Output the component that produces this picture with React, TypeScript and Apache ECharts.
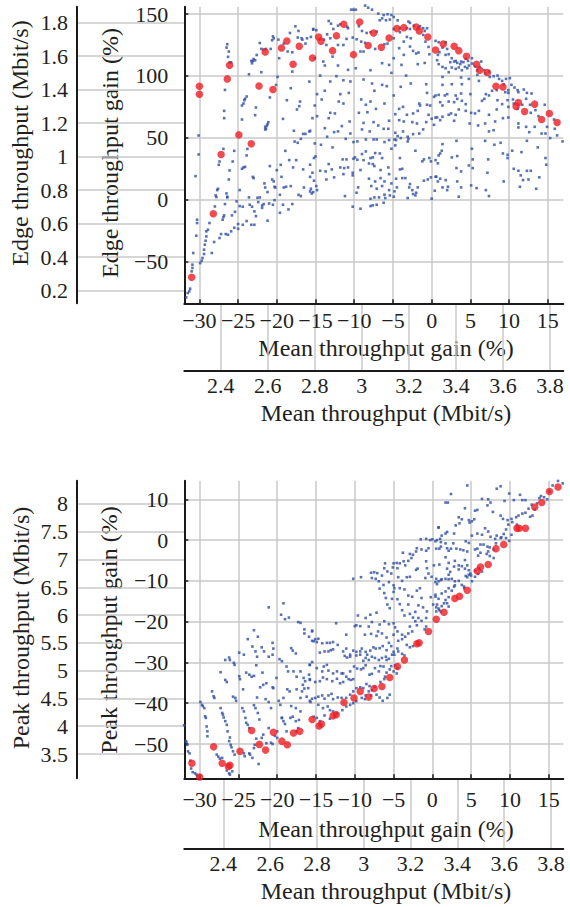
import React, { useEffect, useRef } from 'react';
import * as echarts from 'echarts';

// ---------- tick labels ----------
const gainXTicks = [-30, -25, -20, -15, -10, -5, 0, 5, 10, 15];
const edgeGainTicks = [-50, 0, 50, 100, 150];
const edgeMbitTicks = [0.2, 0.4, 0.6, 0.8, 1, 1.2, 1.4, 1.6, 1.8];
const meanMbitTicks = [2.4, 2.6, 2.8, 3, 3.2, 3.4, 3.6, 3.8];
const peakGainTicks = [-50, -40, -30, -20, -10, 0, 10];
const peakMbitTicks = [3.5, 4, 4.5, 5, 5.5, 6, 6.5, 7, 7.5, 8];

// ---------- axis ranges ----------
const topGainXRange = [-31.95, 17.0];
const edgeGainRange = [-83.6, 155.9];
const edgeMbitRange = [0.125, 1.8955];
const topMeanMbitRange = [2.2452, 3.8565];
const botGainXRange = [-31.98, 16.88];
const peakGainRange = [-58.41, 14.56];
const peakMbitRange = [3.063, 8.419];
const botMeanMbitRange = [2.2333, 3.8526];

// ---------- titles ----------
const edgeMbitTitle = 'Edge throughput (Mbit/s)';
const edgeGainTitle = 'Edge throughput gain (%)';
const peakMbitTitle = 'Peak throughput (Mbit/s)';
const peakGainTitle = 'Peak throughput gain (%)';
const meanGainTitle = 'Mean throughput gain (%)';
const meanMbitTitle = 'Mean throughput (Mbit/s)';

// ---------- data: top panel (mean gain %, edge gain %) ----------
const topRed = [
  [-31.0, -62.6], [-30.0, 91.7], [-30.0, 85.2], [-28.2, -11.3], [-27.2, 36.6], [-26.4, 97.6], [-26.1, 108.6],
  [-24.9, 52.4], [-23.3, 45.2], [-22.3, 91.9], [-21.5, 119.4], [-20.5, 89.0], [-19.4, 122.6], [-18.7, 128.2],
  [-17.9, 109.4], [-17.1, 123.9], [-15.4, 114.5], [-14.6, 131.5], [-14.3, 128.0], [-12.8, 120.4], [-12.3, 132.5],
  [-11.35, 141.7], [-10.1, 117.2], [-9.3, 143.5], [-8.2, 124.5], [-7.5, 134.7], [-6.5, 123.1], [-5.5, 130.6],
  [-4.5, 138.2], [-3.6, 139.0], [-2.0, 139.5], [-1.6, 136.3], [-0.5, 131.5], [0.5, 121.0], [1.5, 125.8],
  [2.9, 123.9], [3.5, 120.4], [4.5, 115.9], [5.8, 109.4], [6.2, 104.6], [7.2, 102.7], [8.3, 91.7], [9.2, 91.1],
  [11.2, 78.5], [10.9, 75.3], [12.0, 71.2], [13.3, 77.2], [14.2, 64.8], [15.2, 69.6], [16.2, 62.4],
];

const topBlueLeft = [
  [-31.7, -78.8], [-31.5, -75.3], [-31.3, -73.9], [-31.2, -71.8], [-31.0, -57.8], [-30.9, -55.1], [-30.9, -52.4],
  [-30.8, -43.0], [-30.4, -29.0], [-30.3, -18.8], [-30.3, -16.1], [-30.1, 36.6], [-30.1, 51.9], [-30.5, 19.1],
  [-29.9, -51.1], [-29.7, -49.2], [-29.6, -47.0], [-29.4, -43.8], [-29.4, -40.3], [-29.3, -36.3], [-29.2, -33.1],
  [-29.1, -29.6], [-29.1, -25.5], [-28.9, -24.2], [-28.7, -18.8], [-28.4, -43.0], [-28.1, -34.1], [-28.0, -5.4],
  [-27.8, 2.2], [-27.9, 3.5], [-27.7, 7.8], [-27.6, 8.9], [-27.5, 28.2], [-27.4, 30.9], [-27.2, -27.7],
  [-27.4, -30.9], [-27.0, -16.1], [-26.9, -14.0], [-26.8, -12.6], [-26.9, 41.1], [-26.7, -3.5], [-26.6, -27.7],
  [-26.4, 1.9], [-26.5, 5.1], [-26.4, 2.4], [-26.3, -28.2], [-26.2, 16.4], [-26.1, 23.7], [-25.9, -25.5],
  [-25.7, 30.9], [-25.8, -12.6], [-25.5, -22.6], [-25.5, 39.5], [-25.4, -9.7], [-25.2, -1.3], [-25.0, -23.4],
  [-25.0, -19.6], [-24.8, 7.8], [-24.8, -5.1], [-24.5, 25.0], [-24.4, -5.6], [-24.4, -20.2], [-24.3, 26.1],
  [-24.1, 26.6], [-23.9, 35.8], [-23.8, 41.1], [-23.9, -17.2], [-23.6, 1.9], [-23.5, -4.0], [-23.3, -20.2],
  [-23.2, -5.6], [-23.1, 18.5], [-23.0, 17.5], [-22.9, -20.2], [-22.9, -9.4], [-22.7, -13.2], [-22.5, 1.6],
  [-22.4, -1.9], [-22.2, 1.9], [-21.9, -6.5], [-21.9, -4.6], [-21.7, -3.5], [-21.6, 13.2], [-21.5, 9.9],
  [-21.2, 6.2], [-21.2, -16.9], [-21.0, -3.0], [-20.9, 27.2], [-20.6, 16.4], [-20.5, -4.0], [-20.4, 14.8],
  [-20.3, 10.5], [-20.3, -0.3], [-20.2, 9.9], [-20.0, 23.9], [-19.6, 4.0], [-19.6, -10.5], [-19.5, 28.2],
  [-19.4, 18.5], [-19.2, -4.0], [-19.1, 9.9], [-18.9, 39.5], [-18.8, 10.5], [-18.5, -7.8], [-18.4, 32.0],
  [-18.2, 11.0], [-18.0, -3.5], [-17.9, 26.1], [-17.7, 47.0], [-17.5, 32.0], [-17.2, 4.0], [-17.3, 46.0],
  [-16.9, 3.0], [-16.6, 24.5], [-16.5, 9.9], [-16.3, 53.2], [-15.8, 55.1], [-15.7, 18.5], [-15.6, 8.9],
  [-15.5, 5.1], [-15.4, 21.8],
  [-26.7, 88.7], [-26.8, 71.8], [-26.8, 65.9], [-26.5, 122.9], [-26.4, 125.6], [-26.2, 119.7], [-26.3, 115.4],
  [-26.1, 111.0], [-25.9, 111.0], [-24.5, 64.8], [-24.5, 76.1], [-24.3, 77.7], [-24.2, 80.4], [-24.1, 81.5],
  [-23.9, 83.4], [-23.6, 101.3], [-23.3, 112.1], [-23.2, 110.2], [-23.1, 112.1], [-23.0, 113.7], [-22.8, 112.6],
  [-22.7, 74.5], [-22.8, 68.3], [-22.6, 116.9], [-22.2, 126.6], [-22.0, 103.0], [-22.0, 121.8], [-21.7, 121.3],
  [-21.4, 121.8], [-21.5, 58.9], [-21.5, 56.7], [-21.4, 57.3], [-21.3, 59.7], [-21.2, 61.0], [-21.1, 62.6],
  [-20.9, 82.6], [-20.8, 121.8], [-20.6, 128.8], [-20.5, 132.0], [-20.4, 130.4], [-19.8, 129.3], [-19.9, 99.2],
  [-20.1, 92.7], [-19.7, 114.3], [-19.2, 65.3], [-19.1, 126.1], [-18.7, 80.4], [-18.6, 119.7], [-18.3, 134.7],
  [-18.2, 90.1], [-18.0, 119.1], [-18.0, 103.5], [-17.8, 55.7], [-17.6, 140.1], [-17.4, 72.9], [-17.3, 131.0],
  [-17.2, 136.3], [-17.1, 75.6], [-17.0, 79.3], [-16.9, 49.2], [-16.8, 130.4], [-16.7, 129.3], [-16.6, 53.2],
  [-16.3, 126.1], [-16.1, 130.4], [-15.8, 95.4], [-15.6, 131.5], [-15.3, 137.9],
];

const topBlueMid = [
  [-10.4, 153.5], [-10.1, 153.5], [-9.8, 153.5], [-8.6, 156.8], [-8.2, 155.1], [-7.7, 153.5], [-6.9, 150.3],
  [-6.2, 149.2], [-5.7, 149.8], [-5.2, 149.2], [-4.9, 147.6], [-5.4, 145.5], [-5.9, 144.9], [-6.4, 146.5],
  [-6.7, 144.9], [-4.4, 144.9], [-3.0, 143.9], [-2.8, 142.8], [-2.3, 140.6], [-1.7, 139.0], [-1.1, 138.5],
  [-0.6, 138.5], [-0.9, 136.3], [-1.5, 140.1], [-2.8, 137.9], [-3.2, 138.5], [-4.1, 138.5], [-4.9, 137.9],
  [-13.3, 144.4], [-13.0, 142.2], [-12.7, 137.9], [-12.1, 140.6], [-11.8, 141.7], [-10.9, 139.6], [-10.8, 138.5],
  [-9.4, 140.1], [-9.0, 136.3], [-8.4, 134.7], [-7.9, 135.3], [-7.1, 135.8], [-8.6, 126.7], [-9.1, 127.7],
  [-9.7, 129.6], [-10.2, 131.0], [-11.0, 129.9], [-11.4, 125.0], [-12.1, 125.0], [-13.1, 130.4], [-13.5, 133.6],
  [-13.6, 125.0], [-13.9, 129.3], [-14.9, 136.9], [-15.3, 137.4], [-15.1, 114.3], [-14.0, 111.6], [-13.8, 108.4],
  [-12.8, 115.6], [-12.1, 108.4], [-10.8, 104.9], [-9.8, 106.2], [-9.2, 119.7], [-8.8, 119.7], [-7.3, 121.8],
  [-6.4, 110.3], [-5.5, 108.9], [-5.2, 102.5], [-4.9, 114.3], [-4.2, 122.4], [-3.9, 108.9], [-3.6, 117.0],
  [-3.2, 131.5], [-2.7, 130.4], [-2.8, 123.7], [-2.4, 120.2], [-2.0, 118.1], [-1.7, 118.9], [-1.1, 133.1],
  [-0.8, 127.7], [-0.4, 123.4], [-0.3, 117.5], [-0.9, 110.5], [-1.8, 109.5], [-3.3, 100.3], [-5.7, 126.1],
  [-4.9, 130.4], [-4.1, 135.3], [-3.6, 127.7], [-6.1, 125.6], [-7.9, 104.6], [-14.4, 100.3],
  [-14.8, 85.3], [-15.1, 76.1], [-14.2, 81.0], [-13.8, 88.0], [-13.1, 95.5], [-12.3, 99.8], [-11.4, 96.5],
  [-10.5, 95.5], [-8.8, 97.1], [-7.7, 93.9], [-7.4, 88.0], [-6.4, 92.8], [-5.8, 91.7], [-4.0, 91.2],
  [-2.7, 93.9], [-0.7, 93.3], [-0.6, 86.3], [0.3, 83.1], [0.9, 84.7], [-11.8, 85.3], [-10.7, 86.3],
  [-12.0, 79.3], [-11.4, 77.7], [-9.1, 81.0], [-8.5, 76.7], [-7.9, 79.3], [-9.4, 70.2], [-8.3, 70.7],
  [-7.2, 73.4], [-6.1, 77.7], [-4.9, 84.2], [-4.2, 73.4], [-4.7, 69.1], [-3.7, 75.0], [-3.2, 68.6],
  [-2.4, 69.7], [-1.8, 71.8], [-1.6, 77.7], [-1.5, 76.1], [-0.6, 76.7], [-0.2, 76.1], [-0.4, 68.6],
  [0.0, 65.4], [0.7, 66.5], [-0.7, 62.7], [-1.9, 61.6], [-2.5, 62.7], [-3.6, 63.2], [-4.2, 64.3],
  [-5.5, 63.8], [-6.2, 57.3], [-6.9, 60.0], [-7.5, 62.7], [-8.8, 62.1], [-10.6, 63.2], [-11.6, 59.5],
  [-12.5, 69.7], [-13.1, 70.2], [-13.3, 65.9], [-14.8, 67.5], [-15.4, 65.9], [-13.8, 57.8], [-12.6, 54.6],
  [-12.1, 55.2], [-10.5, 53.5], [-9.0, 56.8], [-8.0, 55.2], [-5.6, 57.3], [-4.7, 54.1], [-4.4, 51.4],
  [-3.7, 55.2], [-3.1, 50.9], [-3.0, 49.2], [-2.4, 53.0], [-1.6, 53.5], [-1.1, 56.8], [0.3, 60.5],
  [-15.7, 55.7], [-15.1, 45.5], [-13.5, 50.9], [-11.1, 49.2], [-10.1, 46.6], [-9.6, 47.1], [-8.5, 48.7],
  [-7.5, 48.7], [-7.1, 48.7], [-6.1, 46.6], [-5.5, 48.2], [-4.8, 48.7], [-4.6, 48.2], [-4.0, 49.8],
  [-15.7, 28.3], [-15.2, 33.7], [-15.0, 35.0], [-14.3, 44.4], [-12.8, 42.3], [-11.5, 32.6], [-11.0, 32.6],
  [-10.1, 33.1], [-9.9, 34.2], [-9.6, 32.3], [-9.0, 36.9], [-8.8, 32.0], [-8.5, 39.0], [-7.9, 33.7],
  [-7.6, 34.2], [-7.3, 37.7], [-6.7, 37.4], [-6.4, 33.7], [-5.2, 41.2], [-4.7, 43.9], [-4.1, 33.7],
  [-3.1, 47.1], [-2.1, 39.6], [-1.2, 31.0], [-1.0, 32.6], [-0.3, 33.7], [-0.1, 31.0], [0.9, 35.8],
  [-15.2, 15.4], [-14.9, 11.1], [-14.8, 7.8], [-14.4, 23.4], [-13.7, 22.9], [-13.6, 16.4], [-13.3, 28.8],
  [-12.9, 24.5], [-12.6, 18.1], [-11.8, 26.1], [-11.3, 25.6], [-11.4, 20.7], [-10.8, 26.1], [-10.2, 21.8],
  [-10.2, 19.7], [-9.2, 24.0], [-8.1, 29.3], [-8.1, 17.0], [-7.6, 28.8], [-7.4, 27.2], [-7.3, 14.8],
  [-6.6, 24.0], [-6.6, 17.5], [-5.6, 26.1], [-5.5, 20.7], [-6.1, 14.8], [-5.2, 13.2], [-4.5, 10.0],
  [-4.6, 17.0], [-4.1, 24.5], [-3.8, 25.0], [-3.8, 17.5], [-3.4, 17.5], [-2.9, 10.0], [-2.8, 12.7],
  [-2.5, 7.8], [-2.0, 5.7], [-2.1, 3.5], [-1.8, 10.0], [-1.0, 15.4], [-0.5, 16.4], [-0.1, 18.1],
  [0.6, 18.6], [0.8, 14.8], [0.4, 7.3], [-7.8, 11.1], [-7.1, 8.9], [-6.4, 11.1], [-6.1, 4.1],
  [-5.5, 7.8], [-5.4, 3.5], [-4.9, 2.5], [-6.0, 1.4], [-6.8, 1.9], [-7.4, 1.9], [-7.9, 0.8],
  [-9.5, 10.0], [-9.7, 5.7], [-11.2, 3.0], [-10.2, -5.6], [-9.2, -7.2], [-7.9, -5.1], [-7.6, -4.5],
  [-7.1, -4.0], [-6.2, -2.4], [-4.8, 6.8], [-3.1, 1.4], [-2.4, 4.6], [0.0, 0.9], [-15.3, 6.2], [-15.7, 6.8],
];

const topBlueRight = [
  [0.5, 128.3], [0.9, 127.2], [1.8, 127.2], [1.4, 122.9], [2.0, 121.8], [2.2, 117.5], [1.8, 117.0],
  [2.6, 114.3], [2.9, 111.6], [2.4, 111.1], [3.1, 112.1], [3.3, 110.5], [3.7, 109.5], [3.8, 111.6],
  [4.1, 111.1], [4.4, 113.8], [4.7, 112.1], [4.8, 108.4], [4.6, 106.2], [4.3, 107.3], [3.9, 104.6],
  [3.5, 106.8], [3.1, 105.7], [2.6, 106.8], [2.2, 103.0], [1.8, 106.2], [1.4, 107.3], [0.9, 109.5],
  [0.7, 112.7], [0.8, 117.0], [1.0, 119.1], [5.2, 114.3], [5.2, 110.0], [5.6, 107.8], [5.9, 104.6],
  [6.2, 107.3], [6.4, 111.6], [6.8, 104.6], [6.9, 101.9], [7.4, 103.5], [7.5, 99.2], [8.0, 99.8],
  [8.5, 100.3], [8.7, 97.6], [9.1, 96.0], [9.3, 93.3], [9.6, 97.6], [10.1, 98.2], [10.3, 92.8],
  [10.7, 90.6], [11.1, 88.5], [11.2, 86.9], [11.9, 89.0], [12.3, 86.3], [9.9, 88.5], [9.5, 86.9],
  [1.4, 99.2], [3.8, 98.7], [4.8, 97.6], [5.9, 100.9], [6.1, 96.0],
  [0.5, 84.2], [1.1, 78.8], [1.4, 92.8], [1.7, 84.2], [2.0, 85.3], [2.6, 93.3], [2.9, 78.8],
  [3.1, 84.2], [3.3, 81.5], [3.9, 79.9], [4.4, 77.2], [5.0, 85.3], [3.9, 93.3], [3.8, 85.8],
  [2.2, 79.3], [1.4, 76.1], [0.5, 66.4], [1.1, 64.3], [1.4, 67.0], [2.2, 68.6], [2.5, 69.7],
  [2.9, 63.8], [3.1, 68.6], [3.5, 72.9], [4.4, 71.8], [5.1, 70.2], [5.6, 69.7], [6.1, 71.8],
  [6.5, 79.9], [6.8, 81.5], [7.0, 85.3], [7.4, 84.2], [7.8, 88.0], [8.4, 88.5], [8.5, 80.4],
  [9.1, 77.2], [9.8, 80.4], [9.9, 86.3], [10.6, 77.7], [9.9, 75.0], [9.2, 65.9], [8.4, 72.9],
  [7.4, 68.6], [6.9, 61.6], [6.0, 60.0], [4.9, 61.6], [8.2, 63.2], [8.0, 56.2], [7.4, 55.2],
  [9.9, 66.4], [10.5, 81.0], [11.1, 73.4], [12.2, 81.5], [11.7, 76.7], [12.7, 76.7], [12.8, 70.2],
  [13.4, 72.4], [13.3, 58.9], [12.6, 54.6], [13.8, 67.5], [14.6, 76.7], [12.9, 85.8], [11.2, 61.6],
  [11.2, 58.4], [12.2, 58.9], [14.2, 53.5], [14.9, 58.9], [15.3, 49.8], [15.8, 64.8], [15.9, 57.3],
  [16.2, 52.0], [16.9, 47.1], [14.7, 53.5],
  [1.4, 44.9], [1.3, 39.6], [1.1, 37.4], [0.5, 32.0], [0.8, 29.4], [0.5, 18.6], [1.1, 17.0],
  [1.4, 10.0], [1.8, 15.9], [2.0, 7.8], [2.1, 10.5], [2.6, 34.2], [3.2, 47.6], [3.3, 35.3],
  [3.2, 25.6], [3.3, 14.8], [3.5, 2.5], [3.8, 22.9], [3.8, 10.0], [4.8, 27.7], [5.2, 41.2],
  [5.3, 32.6], [5.3, 25.6], [5.1, 11.6], [5.8, 9.4], [6.9, 47.6], [7.3, 32.6], [7.2, 21.8],
  [7.0, 7.8], [7.4, 3.0], [8.1, 44.4], [8.9, 46.0], [9.2, 37.4], [9.3, 14.8], [9.8, 36.3],
  [10.4, 39.6], [10.6, 25.0], [11.2, 23.4], [11.4, 10.5], [11.5, 19.7], [11.8, 15.9], [12.3, 23.4],
  [12.5, 16.4], [12.8, 23.4], [13.5, 8.9], [13.9, 18.1], [13.7, 42.3], [14.8, 28.3], [14.7, 33.7],
  [12.3, 47.6], [11.6, 38.5], [9.8, 33.7],
];

// ---------- data: bottom panel (mean gain %, peak gain %) ----------
const botRed = [
  [-31.0, -54.7], [-30.0, -58.1], [-28.2, -50.7], [-27.1, -54.7], [-26.3, -55.5], [-26.1, -55.2], [-24.8, -51.8],
  [-23.3, -46.7], [-22.3, -50.1], [-21.5, -51.5], [-20.5, -47.1], [-19.4, -49.3], [-18.7, -50.2], [-17.9, -47.3],
  [-17.1, -46.9], [-15.5, -44.0], [-14.6, -45.6], [-14.3, -45.1], [-12.8, -43.1], [-12.4, -42.8], [-11.4, -39.8],
  [-10.1, -38.7], [-9.3, -37.1], [-8.2, -38.5], [-7.5, -36.4], [-6.5, -35.9], [-5.5, -33.7], [-4.5, -31.0],
  [-3.6, -29.4], [-2.0, -25.4], [-1.7, -25.2], [-0.5, -22.4], [0.5, -19.4], [1.5, -17.7], [2.9, -14.3],
  [3.5, -13.8], [4.5, -12.3], [5.8, -7.6], [6.2, -6.6], [7.2, -6.0], [8.2, -2.1], [9.2, -1.1], [10.9, 2.9],
  [11.2, 2.9], [12.0, 2.9], [13.2, 8.1], [14.1, 9.2], [15.1, 11.9], [16.2, 13.0],
];

const botBlueLeft = [
  [-32.0, -45.4], [-31.8, -49.3], [-31.7, -49.5], [-31.6, -50.2], [-31.5, -51.8], [-31.3, -52.3], [-31.2, -54.1],
  [-31.1, -56.0], [-30.9, -56.9], [-30.6, -57.2], [-30.4, -57.5], [-30.3, -57.9], [-29.9, -39.7], [-29.7, -40.4],
  [-29.6, -40.7], [-29.4, -41.2], [-29.3, -43.2], [-29.2, -43.6], [-29.1, -45.7], [-29.0, -46.9], [-29.0, -48.1],
  [-28.4, -37.1], [-28.2, -38.3], [-28.1, -38.7], [-27.8, -52.6], [-27.6, -53.1], [-27.4, -53.6], [-27.1, -53.4],
  [-27.3, -41.2], [-27.1, -42.4], [-27.0, -42.8], [-26.9, -43.5], [-26.7, -44.4], [-26.5, -45.3], [-26.4, -46.9],
  [-26.2, -49.3], [-26.1, -48.4], [-26.0, -50.2], [-25.9, -50.8], [-25.7, -51.8], [-25.5, -52.6], [-26.5, -56.5],
  [-26.2, -57.2], [-26.1, -57.5], [-25.8, -56.7], [-27.3, -32.4], [-26.7, -34.3], [-26.5, -34.8], [-26.2, -28.8],
  [-26.1, -29.4], [-25.6, -30.1], [-25.5, -30.6], [-25.7, -38.4], [-25.4, -38.7], [-25.3, -39.4], [-24.9, -33.4],
  [-24.8, -34.1], [-24.5, -41.2], [-24.3, -42.0], [-24.1, -43.6], [-24.0, -44.8], [-23.8, -45.3], [-23.6, -46.1],
  [-24.4, -36.6], [-24.0, -32.5], [-23.6, -33.0], [-23.3, -33.5], [-23.0, -33.3], [-22.7, -30.7], [-23.0, -40.5],
  [-22.8, -41.2], [-22.5, -42.4], [-22.3, -44.0], [-22.0, -48.5], [-21.8, -47.7], [-22.7, -48.7], [-22.9, -50.2],
  [-23.0, -51.0], [-23.5, -52.6], [-23.2, -53.4], [-23.6, -52.3], [-24.3, -52.3], [-24.2, -53.0], [-22.4, -54.9],
  [-21.4, -49.8], [-21.1, -46.1], [-20.8, -41.2], [-20.6, -36.1], [-20.5, -36.3], [-21.8, -35.5], [-21.4, -35.1],
  [-21.9, -32.5], [-21.5, -39.0], [-22.2, -36.1], [-22.6, -38.6], [-21.1, -39.7], [-19.8, -39.4], [-19.6, -40.4],
  [-19.4, -43.6], [-19.2, -44.4], [-19.0, -45.1], [-18.8, -46.9], [-20.0, -46.9], [-20.0, -48.5], [-20.3, -48.0],
  [-20.6, -50.0], [-20.8, -49.7], [-20.1, -33.8], [-19.7, -29.2], [-19.4, -29.7], [-18.8, -31.0], [-18.6, -32.2],
  [-18.7, -36.6], [-18.4, -37.1], [-18.3, -43.6], [-18.0, -43.3], [-17.6, -44.4], [-17.5, -46.9], [-17.3, -46.1],
  [-17.2, -44.1], [-17.0, -42.0], [-17.6, -41.2], [-18.2, -40.7], [-19.2, -38.7], [-19.4, -43.6], [-17.9, -32.2],
  [-17.5, -33.5], [-17.0, -32.2], [-16.6, -33.8], [-16.4, -34.6], [-16.0, -36.3], [-15.9, -33.0], [-15.8, -34.3],
  [-15.8, -30.6], [-15.5, -29.9], [-15.7, -39.7], [-16.2, -38.4], [-16.5, -36.4], [-16.7, -35.5], [-16.8, -37.1],
  [-17.0, -38.7], [-17.5, -36.6], [-18.2, -26.5], [-18.0, -27.1], [-17.6, -27.8], [-17.3, -20.1], [-17.0, -20.3],
  [-16.5, -21.9], [-16.5, -22.9], [-15.9, -23.7], [-15.5, -22.4], [-15.5, -24.7], [-19.5, -18.3], [-19.0, -19.4],
  [-18.5, -19.0], [-19.2, -15.5], [-21.1, -16.5], [-23.0, -22.1], [-22.5, -23.7], [-23.8, -24.3], [-22.8, -27.3],
  [-22.0, -26.3], [-21.7, -27.3], [-21.1, -28.6], [-20.6, -25.2], [-20.5, -26.6], [-20.6, -28.1], [-22.6, -28.6],
  [-23.2, -26.1], [-24.3, -28.1], [-24.9, -27.6], [-26.7, -29.4],
];

const botBlueMid = [
  [0.8, 3.1], [0.0, 0.2], [-0.3, 0.0], [-0.8, 0.3], [-1.5, 0.2], [0.5, -2.1], [-0.5, -2.0], [-0.8, -2.6],
  [-1.4, -2.3], [-2.0, -2.0], [-2.1, -2.8], [-2.5, -3.6], [-2.9, -3.4], [-2.7, -4.4], [-3.1, -5.1], [-3.7, -5.2],
  [-3.8, -3.1], [-3.5, -6.2], [-4.2, -5.7], [-4.6, -5.6], [-5.0, -5.7], [-4.5, -6.9], [-4.4, -9.1], [-5.1, -6.7],
  [-5.3, -8.2], [-5.8, -7.7], [-6.1, -5.7], [-6.2, -6.9], [-6.5, -8.7], [-7.1, -8.1], [-7.5, -7.9], [-7.9, -8.0],
  [-7.8, -9.3], [-9.2, -9.1], [-10.2, -9.5], [-6.9, -10.1], [-6.3, -11.0], [-5.6, -10.3], [-6.2, -13.0],
  [-6.0, -14.2], [-5.8, -15.8], [-5.5, -16.7], [-6.8, -11.9], [-7.3, -9.5], [-3.9, -10.0], [-3.3, -9.1],
  [-2.9, -9.0], [-2.1, -7.3], [-1.9, -7.0], [-0.8, -5.2], [-0.7, -6.9], [0.2, -6.2], [0.9, -6.0], [0.5, -9.5],
  [-0.1, -9.0], [-0.5, -8.2], [-0.9, -9.3], [-1.6, -11.8], [-2.0, -12.4], [-2.6, -13.9], [-3.1, -13.6],
  [-3.6, -12.1], [-4.2, -11.8], [-4.9, -11.8], [-5.0, -11.1], [-5.0, -12.7], [-5.2, -14.4], [-4.5, -14.5],
  [-4.2, -15.7], [-3.9, -17.2], [-3.1, -15.8], [-3.6, -18.5], [-2.9, -18.1], [-2.5, -19.0], [-2.2, -19.9],
  [-1.8, -19.1], [-1.4, -19.8], [-0.8, -19.1], [-0.7, -17.5], [0.1, -15.8], [0.5, -16.5], [0.9, -17.2],
  [0.8, -14.4], [0.4, -13.9], [-0.2, -14.0], [-1.4, -14.2], [-1.8, -16.0], [-1.2, -16.5], [-2.2, -17.6],
  [-0.8, -21.2], [-1.0, -21.9], [-2.0, -20.9], [-2.9, -21.2], [-2.6, -22.4], [-3.1, -22.9], [-3.5, -23.7],
  [-3.9, -23.2], [-4.5, -22.4], [-4.8, -21.4], [-5.0, -20.4], [-5.6, -20.6], [-6.2, -19.9], [-6.8, -20.7],
  [-7.0, -22.4], [-7.8, -20.1], [-8.0, -18.3], [-7.2, -17.8], [-8.6, -19.1], [-9.6, -18.5], [-10.0, -21.1],
  [-9.8, -20.9], [-9.3, -21.1], [-8.7, -23.2], [-8.2, -21.2], [-7.9, -23.0], [-7.2, -23.5], [-6.5, -22.9],
  [-5.9, -23.9], [-5.6, -25.2], [-5.0, -23.2], [-4.4, -24.7], [-3.9, -24.3], [-3.3, -25.7], [-2.9, -26.3],
  [-2.5, -26.0], [-4.5, -26.6], [-5.0, -27.4], [-5.3, -26.0], [-5.9, -27.0], [-6.4, -26.0], [-6.8, -26.5],
  [-7.3, -26.6], [-7.6, -26.3], [-8.0, -27.1], [-8.4, -28.1], [-8.6, -27.4], [-9.1, -26.6], [-9.3, -27.3],
  [-9.8, -27.4], [-10.2, -27.1], [-10.6, -28.1], [-11.1, -26.6], [-11.5, -27.3], [-12.2, -25.7], [-12.8, -25.0],
  [-13.2, -25.2], [-13.6, -25.2], [-14.2, -25.3], [-14.9, -25.0], [-15.1, -24.3], [-15.3, -24.8], [-15.5, -22.2],
  [-14.7, -24.2], [-11.1, -23.2], [-12.4, -20.4], [-13.1, -27.0], [-12.8, -26.8], [-13.4, -27.3], [-13.9, -27.3],
  [-14.5, -27.6],
  [-11.3, -28.4], [-11.0, -28.8], [-10.6, -28.6], [-9.8, -28.3], [-9.3, -28.1], [-8.9, -29.6], [-8.6, -28.9],
  [-8.2, -29.4], [-7.8, -28.6], [-7.4, -28.9], [-6.9, -29.4], [-6.5, -28.9], [-6.0, -28.6], [-5.9, -29.4],
  [-5.6, -29.1], [-5.2, -28.1], [-4.9, -28.1], [-4.4, -27.3], [-3.9, -27.9], [-3.6, -28.3], [-4.8, -30.7],
  [-4.5, -31.4], [-5.5, -31.7], [-5.9, -32.5], [-6.3, -31.0], [-6.7, -30.9], [-6.9, -32.2], [-7.4, -31.4],
  [-7.8, -32.8], [-8.1, -33.0], [-8.6, -30.7], [-8.9, -31.4], [-9.2, -31.7], [-9.7, -31.5], [-10.1, -31.0],
  [-10.6, -32.2], [-11.1, -33.5], [-11.5, -32.7], [-11.7, -32.7], [-12.3, -32.2], [-12.8, -32.7], [-13.4, -32.0],
  [-13.6, -30.6], [-14.0, -31.0], [-14.2, -32.2], [-14.9, -31.4], [-15.8, -30.6], [-15.8, -34.1], [-15.1, -34.8],
  [-14.5, -34.6], [-14.1, -33.7], [-13.6, -34.1], [-12.9, -34.6], [-12.3, -34.0], [-11.9, -35.1], [-11.5, -34.8],
  [-10.8, -34.1], [-10.5, -34.3], [-10.2, -34.1], [-8.5, -35.3], [-8.1, -35.8], [-7.8, -36.8], [-7.4, -36.0],
  [-6.7, -34.8], [-6.2, -34.1], [-6.1, -33.5], [-5.3, -30.9], [-5.0, -32.2], [-4.6, -32.7], [-8.2, -37.1],
  [-7.9, -38.1], [-8.6, -38.1], [-8.9, -36.3], [-9.3, -36.1], [-9.8, -36.3], [-10.2, -37.1], [-10.6, -37.9],
  [-11.1, -38.7], [-11.7, -38.7], [-12.2, -38.6], [-12.8, -39.0], [-13.0, -37.7], [-13.4, -38.1], [-13.9, -38.9],
  [-14.2, -38.1], [-14.7, -38.4], [-15.1, -38.7], [-15.5, -38.9], [-15.8, -39.4], [-14.7, -40.4], [-14.1, -41.2],
  [-13.5, -40.8], [-13.2, -41.7], [-12.8, -42.0], [-12.3, -42.5], [-11.6, -41.7], [-11.1, -40.8], [-10.6, -40.4],
  [-10.2, -40.0], [-9.8, -39.5], [-9.1, -38.7], [-8.7, -39.0], [-7.2, -37.9], [-6.8, -38.6], [-6.4, -39.4],
  [-5.8, -38.7], [-5.5, -37.9], [-15.3, -43.3], [-14.9, -43.6], [-14.5, -44.4], [-13.9, -43.0], [-13.2, -43.8],
];

const botBlueRight = [
  [4.5, 13.4], [2.4, 11.3], [1.7, 9.2], [2.0, 9.2], [8.3, 12.6], [8.8, 13.2], [9.9, 11.4], [11.3, 11.1],
  [10.5, 9.8], [11.6, 9.8], [12.0, 9.8], [9.3, 9.6], [6.4, 10.1], [7.2, 10.0], [7.5, 9.2], [7.1, 8.5],
  [7.8, 6.9], [8.8, 6.0], [9.1, 5.2], [9.7, 4.9], [10.2, 5.2], [10.8, 5.6], [11.1, 6.0], [11.6, 6.5],
  [12.0, 6.7], [12.6, 5.7], [12.9, 6.0], [12.4, 7.7], [12.8, 8.7], [13.2, 7.5], [13.5, 9.0], [13.8, 10.3],
  [14.0, 10.8], [14.4, 10.5], [14.8, 10.0], [15.1, 11.9], [15.5, 13.4], [16.2, 14.5], [16.8, 13.9],
  [10.3, 4.4], [9.8, 3.8], [9.5, 2.6], [9.2, 1.5], [8.9, 0.7], [8.8, 0.5], [9.5, 0.5], [9.9, -0.2],
  [10.2, 1.3], [10.9, 3.8], [8.3, 1.1], [8.1, 0.3], [7.5, 0.8], [7.2, 2.1], [6.8, 2.9], [6.4, 1.3],
  [5.8, 1.6], [5.1, 1.1], [4.7, -0.7], [4.3, -0.3], [5.4, 5.1], [5.1, 4.6], [4.7, 4.9], [4.8, 4.3],
  [5.5, 7.2], [5.8, 7.4], [4.2, 7.8], [3.8, 5.1], [3.5, 4.1], [3.4, 5.6], [3.0, 3.6], [2.8, 1.6],
  [1.9, 2.0], [1.7, 1.6], [1.2, 1.1], [0.8, 3.1], [1.0, 0.3], [0.6, 0.0], [0.4, -0.3], [1.1, -0.5],
  [1.7, -0.8], [1.1, -1.6], [0.9, -2.1], [1.9, -2.0], [2.1, -2.6], [2.4, -2.1], [2.7, -0.8], [3.1, -2.1],
  [3.6, -2.3], [4.0, -2.5], [4.5, -2.8], [5.5, -2.3], [5.8, -2.1], [6.2, -1.1], [6.6, -1.1], [7.1, -1.6],
  [7.4, -1.8], [7.9, -2.3], [7.2, -2.8], [7.0, -3.4], [7.4, -3.9], [6.2, -3.1], [5.9, -3.8], [7.9, -4.4],
  [8.2, -0.8], [1.7, -4.2], [2.1, -5.6], [2.9, -5.1], [3.4, -6.2], [3.8, -6.4], [4.2, -4.9], [4.5, -6.2],
  [4.7, -7.4], [4.9, -8.2], [5.0, -8.7], [4.7, -8.5], [4.3, -8.8], [4.2, -7.0], [3.4, -7.2], [2.8, -6.5],
  [2.3, -7.8], [2.1, -8.5], [1.9, -7.0], [1.7, -9.5], [1.2, -9.6], [0.8, -10.1], [0.4, -10.3], [0.6, -10.8],
  [1.1, -9.8], [2.1, -9.6], [2.5, -9.5], [2.9, -10.1], [3.4, -10.0], [3.8, -11.0], [4.1, -11.4], [4.5, -9.1],
  [5.1, -10.1], [5.5, -9.0], [5.9, -8.3], [6.4, -7.7], [6.0, -6.9], [5.5, -7.5], [2.9, -11.1], [2.8, -11.4],
  [2.1, -11.8], [1.7, -12.6], [2.5, -12.4], [1.2, -13.1], [4.1, -11.8], [2.1, -14.0], [1.7, -14.7],
  [0.4, -13.4], [0.6, -15.8], [0.8, -16.8], [1.2, -16.2], [1.5, -15.5], [1.9, -15.5], [2.1, -16.3],
  [1.1, -17.6], [0.5, -17.5],
];

const topBlue = [...topBlueLeft, ...topBlueMid, ...topBlueRight];
const botBlue = [...botBlueLeft, ...botBlueMid, ...botBlueRight];

// ---------- styles ----------
const FONT = '"Liberation Serif", "Times New Roman", Times, serif';
const TEXT = '#231f20';
const GRID = '#c8c8c8';
const AXIS = '#1a1a1a';
const BLUE = '#2f4fa2';
const RED = '#ee1d23';

const fmt = (v: number) => String(Math.round(v * 1000) / 1000).replace('-', '\u2212');

function isTick(v: number, ticks: number[]) {
  return ticks.some((t) => Math.abs(t - v) < 1e-6);
}

function mainAxis(gridIndex: number, range: number[], ticks: number[], step: number, pos: string, margin: number) {
  return {
    type: 'value',
    gridIndex,
    position: pos,
    min: range[0],
    max: range[1],
    minInterval: step,
    maxInterval: step,
    axisLine: { show: true, onZero: false, lineStyle: { color: AXIS, width: 2 } },
    axisTick: { show: true, inside: true, length: 4, lineStyle: { color: AXIS, width: 1.5 }, customValues: ticks },
    axisLabel: {
      show: true,
      margin,
      customValues: ticks,
      fontFamily: FONT,
      fontSize: 22,
      color: TEXT,
      formatter: (v: number) => (isTick(v, ticks) ? fmt(v) : ''),
    },
    splitLine: { show: true, lineStyle: { color: GRID, width: 1.5 } },
    z: 3,
  };
}

function outerAxis(gridIndex: number, range: number[], ticks: number[], step: number, pos: string, margin: number) {
  return {
    type: 'value',
    gridIndex,
    position: pos,
    min: range[0],
    max: range[1],
    minInterval: step,
    maxInterval: step,
    axisLine: { show: true, onZero: false, lineStyle: { color: AXIS, width: 2 } },
    axisTick: { show: false, customValues: ticks },
    axisLabel: {
      show: true,
      margin,
      customValues: ticks,
      fontFamily: FONT,
      fontSize: 22,
      color: TEXT,
      formatter: (v: number) => (isTick(v, ticks) ? fmt(v) : ''),
    },
    splitLine: { show: true, lineStyle: { color: GRID, width: 1.5 } },
    z: 1,
  };
}

function dummyAxis(gridIndex: number) {
  return { type: 'value', gridIndex, min: 0, max: 1, show: false, splitLine: { show: false } };
}

function title(text: string, x: number, y: number, rotated: boolean) {
  return {
    type: 'text',
    x,
    y,
    rotation: rotated ? Math.PI / 2 : 0,
    silent: true,
    style: {
      text,
      fontFamily: FONT,
      fontSize: 24,
      fill: TEXT,
      align: 'center',
      verticalAlign: 'middle',
      textAlign: 'center',
      textVerticalAlign: 'middle',
    },
  };
}

export default function App() {
  const ref = useRef<HTMLDivElement>(null);

  useEffect(() => {
    if (!ref.current) return;
    const chart = echarts.init(ref.current, undefined, { renderer: 'svg' });

    const L_OUT = 77;
    const L_IN = 184.3;
    const R = 563.3;
    const T1 = 6.7, B1 = 303.3, M1 = 371;
    const T2 = 480.7, B2 = 778.3, M2 = 849;
    const W = R - L_IN;

    const g = (left: number, top: number, width: number, height: number) => ({
      left, top, width, height, containLabel: false, outerBoundsMode: 'none', show: false,
    });

    const option: any = {
      animation: false,
      grid: [
        g(L_IN, T1, W, B1 - T1),
        g(L_OUT, T1, L_IN - L_OUT, B1 - T1),
        g(L_IN, B1, W, M1 - B1),
        g(L_IN, T2, W, B2 - T2),
        g(L_OUT, T2, L_IN - L_OUT, B2 - T2),
        g(L_IN, B2, W, M2 - B2),
      ],
      xAxis: [
        mainAxis(0, topGainXRange, gainXTicks, 5, 'bottom', 6),
        dummyAxis(1),
        outerAxis(2, topMeanMbitRange, meanMbitTicks, 0.2, 'bottom', 3),
        mainAxis(3, botGainXRange, gainXTicks, 5, 'bottom', 10),
        dummyAxis(4),
        outerAxis(5, botMeanMbitRange, meanMbitTicks, 0.2, 'bottom', 3),
      ],
      yAxis: [
        mainAxis(0, edgeGainRange, edgeGainTicks, 50, 'left', 16),
        outerAxis(1, edgeMbitRange, edgeMbitTicks, 0.2, 'left', 9),
        dummyAxis(2),
        mainAxis(3, peakGainRange, peakGainTicks, 10, 'left', 16),
        outerAxis(4, peakMbitRange, peakMbitTicks, 0.5, 'left', 9),
        dummyAxis(5),
      ],
      series: [
        {
          type: 'scatter', xAxisIndex: 0, yAxisIndex: 0, data: topBlue, symbol: 'rect', symbolSize: 2.6,
          itemStyle: { color: BLUE }, clip: false, silent: true, z: 4,
        },
        {
          type: 'scatter', xAxisIndex: 0, yAxisIndex: 0, data: topRed, symbol: 'circle', symbolSize: 7.5,
          itemStyle: { color: RED }, clip: false, silent: true, z: 5,
        },
        {
          type: 'scatter', xAxisIndex: 3, yAxisIndex: 3, data: botBlue, symbol: 'rect', symbolSize: 2.6,
          itemStyle: { color: BLUE }, clip: false, silent: true, z: 4,
        },
        {
          type: 'scatter', xAxisIndex: 3, yAxisIndex: 3, data: botRed, symbol: 'circle', symbolSize: 7.5,
          itemStyle: { color: RED }, clip: false, silent: true, z: 5,
        },
      ],
      graphic: [
        title(edgeMbitTitle, 20, 143, true),
        title(edgeGainTitle, 110, 153, true),
        title(meanGainTitle, 386, 348, false),
        title(meanMbitTitle, 386, 413, false),
        title(peakMbitTitle, 21, 628, true),
        title(peakGainTitle, 109, 630, true),
        title(meanGainTitle, 386, 829, false),
        title(meanMbitTitle, 386, 891, false),
      ],
    };

    chart.setOption(option);
    return () => chart.dispose();
  }, []);

  return (
    <div
      ref={ref}
      style={{ position: 'absolute', left: 0, top: 0, width: 570, height: 907, background: '#ffffff' }}
    />
  );
}
